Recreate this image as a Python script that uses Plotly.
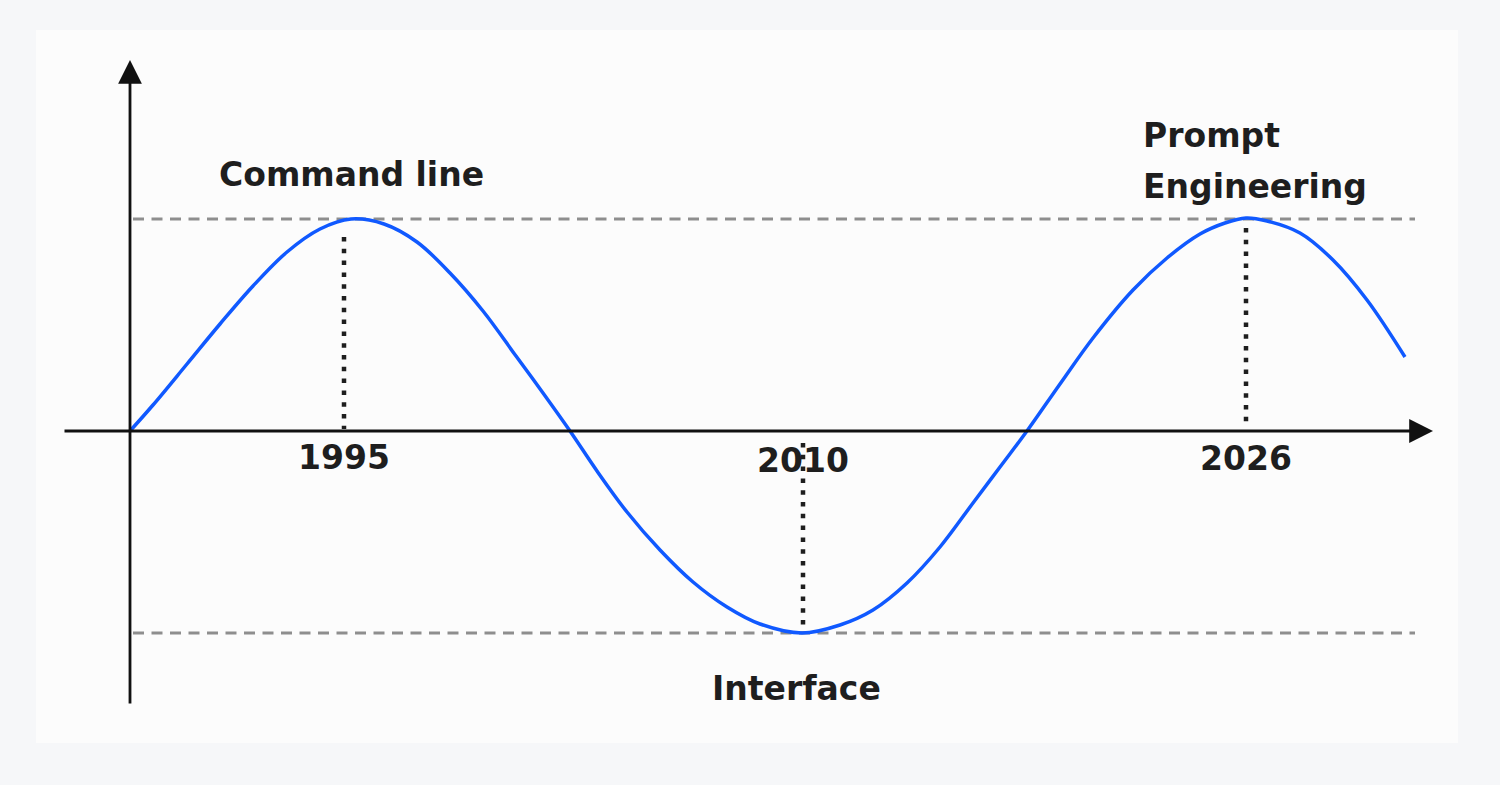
#!/usr/bin/env python

import plotly.graph_objs as go

# curve: t is distance along the time axis, level is height above it
t = [0, 23, 57, 90, 123, 157, 190, 221,
     254, 287, 320, 353, 386, 413, 440,
     467, 497, 530, 563, 597, 630, 672,
     710, 743, 777, 810, 843, 870, 897,
     930, 963, 1003, 1037, 1070, 1095, 1116,
     1137, 1170, 1203, 1237, 1275]
level = [0, 26, 67, 107, 145, 179, 202, 212,
         207, 189, 158, 120, 75, 38, 0,
         -40, -81, -119, -151, -176, -193, -202,
         -194, -179, -152, -116, -72, -36, 0,
         47, 93, 141, 173, 197, 208, 213,
         210, 198, 171, 131, 74]

years = ['1995', '2010', '2026']
year_t = [214, 673, 1116]
year_level = [-26, -29, -27]

# dotted drop lines (start, end) for each year
drop_from = [194, -12, 203]
drop_to = [2, -202, 9]

band_top = 212
band_bottom = -202
band_start = 3
band_end = 1285

era_labels = ['Command line', 'Prompt', 'Engineering', 'Interface']
era_t = [221, 1011, 1011, 666]
era_level = [257, 296, 245, -257]
era_anchor = ['center', 'left', 'left', 'center']

ink = '#1e1e1e'
font_name = 'DejaVu Sans, sans-serif'

traces = list()

for lvl in [band_top, band_bottom]:
    traces.append(go.Scatter(x=[band_start, band_end], y=[lvl, lvl],
                             mode='lines',
                             line=dict(color='#8e8e8e', width=3, dash='11px,7.5px'),
                             hoverinfo='skip'))

for i in range(len(years)):
    traces.append(go.Scatter(x=[year_t[i], year_t[i]], y=[drop_from[i], drop_to[i]],
                             mode='lines',
                             line=dict(color=ink, width=4.5, dash='4.5px,7.3px'),
                             hoverinfo='skip'))

traces.append(go.Scatter(x=t, y=level,
                         mode='lines',
                         line=dict(color='#1059ff', width=3.5, shape='spline', smoothing=1.0),
                         hoverinfo='skip'))

annotations = list()

# axes with arrowheads
annotations.append(dict(x=1303, y=0, ax=-67, ay=0, xref='x', yref='y', axref='x', ayref='y',
                        text='', showarrow=True, arrowhead=2, arrowsize=1.7,
                        arrowwidth=2.8, arrowcolor='#111111'))
annotations.append(dict(x=0, y=371, ax=0, ay=-274, xref='x', yref='y', axref='x', ayref='y',
                        text='', showarrow=True, arrowhead=2, arrowsize=1.7,
                        arrowwidth=2.8, arrowcolor='#111111'))

for i in range(len(years)):
    annotations.append(dict(x=year_t[i], y=year_level[i], xref='x', yref='y',
                            text=years[i], showarrow=False, xanchor='center',
                            font=dict(family=font_name, size=33, color=ink, weight='bold')))

for i in range(len(era_labels)):
    annotations.append(dict(x=era_t[i], y=era_level[i], xref='x', yref='y',
                            text=era_labels[i], showarrow=False, xanchor=era_anchor[i],
                            font=dict(family=font_name, size=33, color=ink, weight='bold')))

layout = go.Layout(width=1500, height=785,
                   showlegend=False,
                   paper_bgcolor='#f6f7f9',
                   plot_bgcolor='#fcfcfc',
                   margin=dict(l=36, r=42, t=30, b=42),
                   xaxis=dict(range=[-94, 1328], visible=False, fixedrange=True),
                   yaxis=dict(range=[-312, 401], visible=False, fixedrange=True),
                   annotations=annotations)

fig = go.Figure(data=traces, layout=layout)
fig.write_html("out.html",
               config={'displayModeBar': False},
               post_script="document.body.style.margin='0';document.body.style.background='#f6f7f9';")
